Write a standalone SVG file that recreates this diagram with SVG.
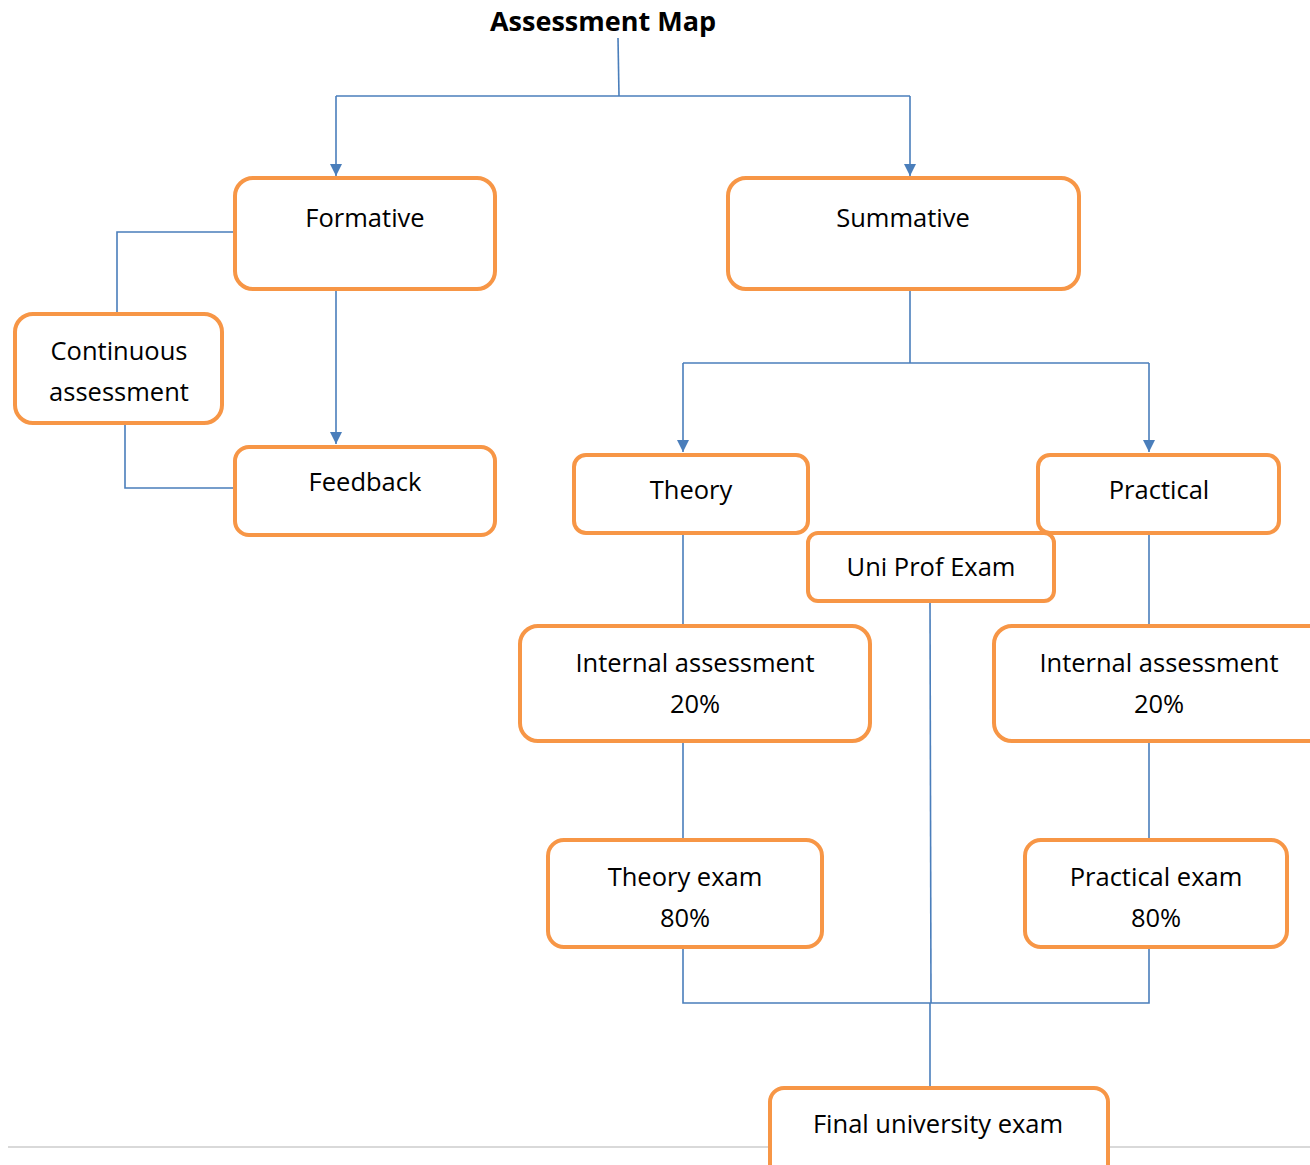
<svg xmlns="http://www.w3.org/2000/svg" width="1310" height="1165" viewBox="0 0 1310 1165">
<style>
.box{fill:#fff;stroke:#F79646;stroke-width:4}
.t{font-family:"Open Sans",Lato,"Liberation Sans",sans-serif;font-size:25.5px;fill:#000;text-anchor:middle}
.c{fill:none;stroke:#4A7EBB;stroke-width:1.6}
</style>
<defs>
<marker id="ah" viewBox="0 0 12 12" refX="12" refY="6" markerWidth="12" markerHeight="12" markerUnits="userSpaceOnUse" orient="auto">
<path d="M0,0 L12,6 L0,12 z" fill="#4A7EBB"/>
</marker>
</defs>
<rect width="1310" height="1165" fill="#fff"/>
<line x1="8" y1="1147" x2="1310" y2="1147" stroke="#d9d9d9" stroke-width="2"/>
<text x="603" y="31" style="font-family:'Open Sans',Lato,'Liberation Sans',sans-serif;font-size:27px;font-weight:bold;text-anchor:middle">Assessment Map</text>
<g id="connectors">
<path class="c" d="M618,38 L619,96"/>
<path class="c" d="M336,96 L910,96"/>
<path class="c" d="M336,96 L336,176" marker-end="url(#ah)"/>
<path class="c" d="M910,96 L910,176" marker-end="url(#ah)"/>
<path class="c" d="M235,232 L117,232 L117,314"/>
<path class="c" d="M125,423 L125,488 L235,488"/>
<path class="c" d="M336,289 L336,444" marker-end="url(#ah)"/>
<path class="c" d="M910,289 L910,363"/>
<path class="c" d="M683,363 L1149,363"/>
<path class="c" d="M683,363 L683,452" marker-end="url(#ah)"/>
<path class="c" d="M1149,363 L1149,452" marker-end="url(#ah)"/>
<path class="c" d="M683,533 L683,626"/>
<path class="c" d="M683,741 L683,840"/>
<path class="c" d="M1149,533 L1149,626"/>
<path class="c" d="M1149,741 L1149,840"/>
<path class="c" d="M683,947 L683,1003 L1149,1003 L1149,947"/>
<path class="c" d="M930,601 L931,1003"/>
<path class="c" d="M930,1003 L930,1088"/>
</g>
<g id="formative"><rect class="box" x="235" y="178" width="260" height="111" rx="18"/><text class="t" x="365" y="227">Formative</text></g>
<g id="summative"><rect class="box" x="728" y="178" width="351" height="111" rx="18"/><text class="t" x="903" y="227">Summative</text></g>
<g id="continuous"><rect class="box" x="15" y="314" width="207" height="109" rx="18"/><text class="t" x="119" y="360">Continuous</text><text class="t" x="119" y="401">assessment</text></g>
<g id="feedback"><rect class="box" x="235" y="447" width="260" height="88" rx="14"/><text class="t" x="365" y="491">Feedback</text></g>
<g id="theory"><rect class="box" x="574" y="455" width="234" height="78" rx="12"/><text class="t" x="691" y="499">Theory</text></g>
<g id="practical"><rect class="box" x="1038" y="455" width="241" height="78" rx="12"/><text class="t" x="1159" y="499">Practical</text></g>
<g id="uniprof"><rect class="box" x="808" y="533" width="246" height="68" rx="10"/><text class="t" x="931" y="576">Uni Prof Exam</text></g>
<g id="internal-theory"><rect class="box" x="520" y="626" width="350" height="115" rx="18"/><text class="t" x="695" y="672">Internal assessment</text><text class="t" x="695" y="713">20%</text></g>
<g id="internal-practical"><rect class="box" x="994" y="626" width="340" height="115" rx="18"/><text class="t" x="1159" y="672">Internal assessment</text><text class="t" x="1159" y="713">20%</text></g>
<g id="theory-exam"><rect class="box" x="548" y="840" width="274" height="107" rx="16"/><text class="t" x="685" y="886">Theory exam</text><text class="t" x="685" y="927">80%</text></g>
<g id="practical-exam"><rect class="box" x="1025" y="840" width="262" height="107" rx="16"/><text class="t" x="1156" y="886">Practical exam</text><text class="t" x="1156" y="927">80%</text></g>
<g id="final"><rect class="box" x="770" y="1088" width="338" height="90" rx="14"/><text class="t" x="938" y="1133">Final university exam</text></g>
</svg>
